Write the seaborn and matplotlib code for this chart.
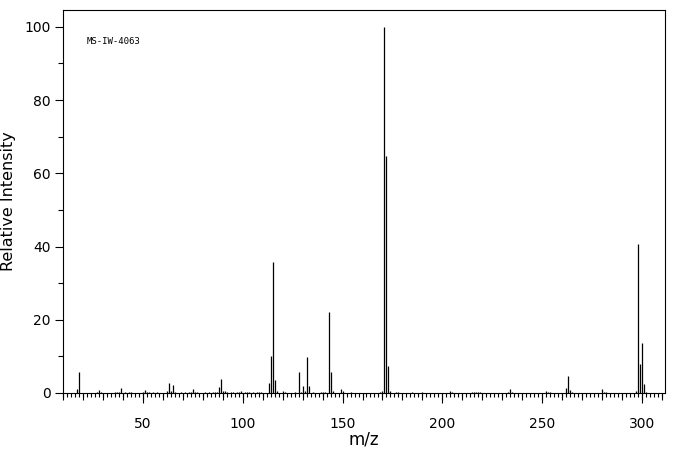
import numpy as np
import matplotlib
matplotlib.use("Agg")
import matplotlib.pyplot as plt
from matplotlib.ticker import MultipleLocator, FixedLocator
import seaborn as sns

# peak list (m/z, relative intensity)
mz = [17, 18, 27, 28, 29, 36, 37, 38, 39, 41, 43, 44, 50, 51, 52, 53, 55, 57,
      62, 63, 64, 65, 66, 69, 71, 73, 74, 75, 76, 77, 81, 83, 85, 86, 87, 88,
      89, 90, 91, 92, 94, 95, 97, 98, 99, 101, 102, 103, 105, 107, 108, 109,
      113, 114, 115, 116, 117, 120, 121, 126, 128, 129, 130, 131, 132, 133,
      135, 139, 140, 141, 143, 144, 145, 149, 150, 154, 169, 170, 171, 172,
      173, 174, 177, 178, 185, 190, 204, 205, 215, 216, 217, 218, 219, 233,
      234, 235, 252, 253, 254, 262, 263, 264, 265, 280, 281, 282, 297, 298,
      299, 300, 301, 302]
intensity = [1.1, 5.7, 0.4, 0.8, 0.3, 0.3, 0.2, 0.2, 1.4, 0.3, 0.3, 0.3, 0.3,
             0.8, 0.3, 0.2, 0.3, 0.3, 0.6, 2.6, 0.6, 2.3, 0.3, 0.3, 0.3, 0.3,
             0.4, 1.2, 0.4, 0.4, 0.3, 0.3, 0.3, 0.3, 0.4, 1.7, 3.7, 0.5, 0.5,
             0.4, 0.3, 0.3, 0.3, 0.3, 0.6, 0.3, 0.4, 0.4, 0.3, 0.3, 0.3, 0.3,
             2.7, 10.2, 35.9, 3.6, 0.5, 0.5, 0.4, 0.4, 5.7, 0.4, 1.9, 0.5, 9.8,
             1.8, 0.3, 0.3, 0.4, 0.4, 22.2, 5.7, 0.5, 1.0, 0.5, 0.3, 0.3, 0.5,
             100.0, 64.8, 7.4, 0.5, 0.3, 0.3, 0.3, 0.3, 0.5, 0.3, 0.3, 0.4, 0.4,
             0.4, 0.3, 0.3, 1.0, 0.3, 0.5, 0.3, 0.3, 1.3, 4.6, 0.7, 0.3, 1.0,
             0.3, 0.3, 0.5, 40.7, 7.9, 13.7, 2.4, 0.3]
x_labels = [50, 100, 150, 200, 250, 300]
y_labels = [0, 20, 40, 60, 80, 100]

sns.set_style("ticks")
plt.rcParams['font.family'] = ['DejaVu Sans']

fig = plt.figure(figsize=(6.76, 4.55), dpi=100)
ax = fig.add_axes([63 / 676, 1 - 393 / 455, 602 / 676, 383 / 455])

ax.vlines(mz, 0, intensity, color='black', linewidth=0.9)

ax.set_xlim(10, 311.5)
ax.set_ylim(0, 104.6)

# x ticks: labels every 50, medium every 10, small every 2
ax.xaxis.set_major_locator(FixedLocator(x_labels))
ax.xaxis.set_minor_locator(MultipleLocator(2))
sec = ax.secondary_xaxis('bottom')
sec.xaxis.set_major_locator(MultipleLocator(10))
sec.tick_params(axis='x', length=5, width=0.8, labelbottom=False, color='black')
sec.spines['bottom'].set_visible(False)

ax.yaxis.set_major_locator(FixedLocator(y_labels))
ax.yaxis.set_minor_locator(MultipleLocator(10))

ax.tick_params(axis='x', which='major', length=7.5, width=0.8, labelsize=10, pad=10,
               color='black', labelcolor='black')
ax.tick_params(axis='x', which='minor', length=3, width=0.8, color='black')
ax.tick_params(axis='y', which='major', length=6, width=0.8, labelsize=10, pad=3,
               color='black', labelcolor='black')
ax.tick_params(axis='y', which='minor', length=3.5, width=0.8, color='black')

for s in ax.spines.values():
    s.set_visible(True)
    s.set_linewidth(0.8)
    s.set_color('black')

ax.set_xlabel('m/z', fontsize=12, color='black')
ax.xaxis.set_label_coords(0.5, -0.097)
ax.set_ylabel('Relative Intensity', fontsize=11.5, color='black')
ax.yaxis.set_label_coords(-0.078, 0.5)

ax.text(0.04, 0.918, 'MS-IW-4063', transform=ax.transAxes, fontsize=6.5,
        family='DejaVu Sans Mono', va='center', ha='left', color='black')

fig.savefig('out.png', dpi=100)
